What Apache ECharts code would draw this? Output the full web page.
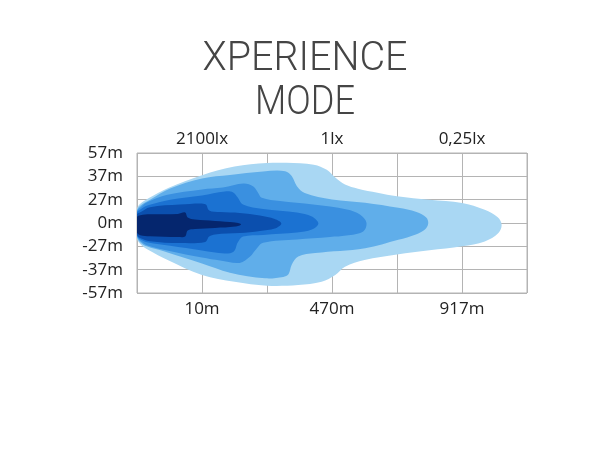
<!DOCTYPE html>
<html>
<head>
<meta charset="utf-8">
<script src="https://cdn.jsdelivr.net/npm/echarts@6/dist/echarts.min.js"></script>
<style>
html,body{margin:0;padding:0;background:#fff;}
#main{width:610px;height:450px;}
</style>
</head>
<body>
<div id="main"></div>
<script>
// Tick labels
var yLabels = ['-57m', '-37m', '-27m', '0m', '27m', '37m', '57m'];
var xTopLabels = ['', '2100lx', '', '1lx', '', '0,25lx', ''];
var xBottomLabels = ['', '10m', '', '470m', '', '917m', ''];
var titleLines = ['XPERIENCE', 'MODE'];

// Isolux zones (outermost to innermost), [x, y] in grid cells
var zone1 = [[-0.03,-0.05],[0,0.6],[0.05,0.82],[0.17,1.05],[0.48,1.5],[1.0,2.05],[1.5,2.42],[2.0,2.57],[2.3,2.58],[2.72,2.5],[2.92,2.28],[3.05,1.95],[3.2,1.65],[3.4,1.47],[3.7,1.3],[4.0,1.15],[4.5,1.0],[5.0,0.86],[5.35,0.57],[5.55,0.25],[5.61,-0.07],[5.56,-0.43],[5.35,-0.79],[5.0,-1.0],[4.5,-1.17],[4.0,-1.35],[3.5,-1.59],[3.2,-1.87],[3.05,-2.23],[2.84,-2.52],[2.48,-2.66],[2.0,-2.69],[1.5,-2.52],[1.0,-2.23],[0.48,-1.6],[0.17,-1.15],[0.05,-0.9],[0,-0.68]];
var zone2 = [[-0.03,-0.05],[0,0.55],[0.05,0.74],[0.2,1.0],[0.51,1.48],[1.0,1.91],[1.43,2.06],[1.94,2.21],[2.28,2.22],[2.38,2.01],[2.46,1.58],[2.58,1.29],[3.0,1.01],[3.51,0.87],[4.02,0.65],[4.3,0.47],[4.45,0.24],[4.48,-0.02],[4.43,-0.28],[4.29,-0.49],[4.02,-0.72],[3.51,-1.08],[2.74,-1.29],[2.48,-1.44],[2.38,-1.79],[2.33,-2.2],[2.25,-2.31],[1.97,-2.37],[1.43,-2.13],[1.0,-1.74],[0.4,-1.2],[0.15,-1.0],[0.05,-0.82],[0,-0.62]];
var zone3 = [[-0.03,-0.05],[0,0.5],[0.05,0.66],[0.15,0.88],[0.45,1.2],[1.0,1.44],[1.32,1.52],[1.64,1.69],[1.79,1.56],[1.86,1.31],[1.92,1.08],[2.2,0.94],[2.71,0.79],[3.23,0.58],[3.43,0.36],[3.53,0.01],[3.48,-0.36],[3.22,-0.54],[2.97,-0.6],[2.46,-0.71],[1.94,-0.85],[1.83,-1.14],[1.74,-1.44],[1.58,-1.71],[1.28,-1.61],[1.0,-1.48],[0.5,-1.2],[0.15,-0.95],[0.05,-0.76],[0,-0.56]];
var zone4 = [[-0.03,-0.05],[0,0.45],[0.05,0.58],[0.17,0.76],[0.51,1.0],[1.0,1.18],[1.35,1.35],[1.48,1.31],[1.55,1.09],[1.63,0.79],[1.94,0.6],[2.46,0.45],[2.69,0.28],[2.79,-0.02],[2.69,-0.28],[2.46,-0.41],[1.94,-0.51],[1.63,-0.58],[1.55,-0.84],[1.49,-1.22],[1.35,-1.31],[1.0,-1.18],[0.51,-0.98],[0.17,-0.84],[0.05,-0.7],[0,-0.52]];
var zone5 = [[-0.03,-0.05],[0,0.38],[0.05,0.46],[0.2,0.68],[0.66,0.79],[0.97,0.84],[1.06,0.79],[1.11,0.54],[1.28,0.47],[1.58,0.43],[1.89,0.32],[2.12,0.17],[2.22,-0.02],[2.12,-0.24],[1.89,-0.34],[1.58,-0.43],[1.2,-0.49],[1.11,-0.58],[1.05,-0.81],[0.66,-0.86],[0.2,-0.78],[0.05,-0.64],[0,-0.5]];
var zone6 = [[-0.03,-0.08],[0,0.26],[0.05,0.33],[0.2,0.37],[0.63,0.39],[0.74,0.45],[0.78,0.24],[0.89,0.15],[1.2,0.09],[1.51,0.02],[1.6,-0.06],[1.51,-0.15],[1.2,-0.21],[0.89,-0.26],[0.78,-0.32],[0.74,-0.58],[0.63,-0.6],[0.2,-0.57],[0.05,-0.52],[0,-0.42]];

var zones = [zone1, zone2, zone3, zone4, zone5, zone6];
var zoneColors = ['#a9d7f3', '#60aeea', '#3a90e0', '#1b72d2', '#0b4fae', '#05266e'];

var chart = echarts.init(document.getElementById('main'), null, {renderer: 'canvas'});

function measure(text, font) {
  var c = document.createElement('canvas').getContext('2d');
  c.font = font;
  return c.measureText(text).width;
}
var titleFont = '300 40px Roboto';
var titleTargetW = [205, 100];

var series = zones.map(function (zone, i) {
  return {
    type: 'custom',
    silent: true,
    clip: true,
    xAxisIndex: 0,
    yAxisIndex: 0,
    z: 3 + i,
    data: zone,
    renderItem: function (params, api) {
      if (params.dataIndex !== 0) return null;
      var pts = zone.map(function (p) { return api.coord(p); });
      return {
        type: 'polygon',
        shape: {points: pts, smooth: 0.35},
        style: {fill: zoneColors[i]}
      };
    }
  };
});

var graphics = titleLines.map(function (t, i) {
  var w = measure(t, titleFont);
  return {
    type: 'text',
    left: 'center',
    top: [40, 84][i],
    scaleX: titleTargetW[i] / w,
    style: {
      text: t,
      font: titleFont,
      fill: '#454545'
    }
  };
});

var labelStyle = {color: '#222', fontFamily: 'Open Sans', fontSize: 17};

chart.setOption({
  animation: false,
  backgroundColor: '#ffffff',
  graphic: graphics,
  grid: {left: 137, right: 83, top: 153, bottom: 157, show: true, borderColor: '#b4b4b4', borderWidth: 1, z: 1},
  xAxis: [{
    type: 'value', min: 0, max: 6, interval: 1, position: 'bottom',
    axisLine: {show: false}, axisTick: {show: false},
    splitLine: {show: true, lineStyle: {color: '#b4b4b4', width: 1}},
    axisLabel: Object.assign({margin: 8,
      formatter: function (v) { return xBottomLabels[Math.round(v)] || ''; }}, labelStyle)
  }, {
    type: 'value', min: 0, max: 6, interval: 1, position: 'top',
    axisLine: {show: false}, axisTick: {show: false}, splitLine: {show: false},
    axisLabel: Object.assign({margin: 5,
      formatter: function (v) { return xTopLabels[Math.round(v)] || ''; }}, labelStyle)
  }],
  yAxis: {
    type: 'value', min: -3, max: 3, interval: 1,
    axisLine: {show: false}, axisTick: {show: false},
    splitLine: {show: true, lineStyle: {color: '#b4b4b4', width: 1}},
    axisLabel: Object.assign({margin: 14,
      formatter: function (v) { return yLabels[Math.round(v) + 3]; }}, labelStyle)
  },
  series: series
});
</script>
</body>
</html>
